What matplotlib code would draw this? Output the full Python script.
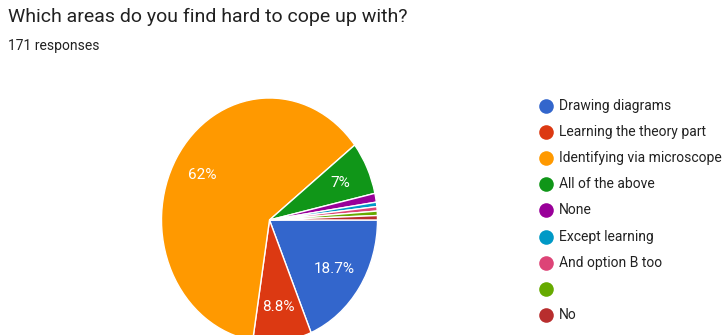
import matplotlib
matplotlib.use("Agg")
import matplotlib.pyplot as plt

title = "Which areas do you find hard to cope up with?"
subtitle = "171 responses"
categories = ["Drawing diagrams", "Learning the theory part", "Identifying via microscope",
              "All of the above", "None", "Except learning", "And option B too", "", "No"]
counts = [32, 15, 106, 12, 2, 1, 1, 1, 1]
colors = ["#3366cc", "#dc3912", "#ff9900", "#109618", "#990099",
          "#0099c6", "#dd4477", "#66aa00", "#b82e2e"]

plt.rcParams['font.family'] = ['Roboto', 'DejaVu Sans']

W, H = 727, 335
fig = plt.figure(figsize=(W / 100, H / 100), dpi=100)
fig.patch.set_facecolor("white")

# pie axes (slightly stretched vertically like the reference)
cx, cy, rx, ry = 269.5, 220, 108, 122
ax = fig.add_axes([(cx - rx) / W, (H - cy - ry) / H, 2 * rx / W, 2 * ry / H])

def fmt(p):
    if p < 5:
        return ""
    s = f"{p:.1f}"
    if s.endswith(".0"):
        s = s[:-2]
    return s + "%"

wedges, texts, autotexts = ax.pie(
    counts, colors=colors, startangle=0, counterclock=False,
    autopct=fmt, pctdistance=0.72,
    wedgeprops=dict(edgecolor="white", linewidth=1.0),
    textprops=dict(color="white", fontsize=11))
ax.set_aspect("auto")
ax.set_xlim(-1, 1)
ax.set_ylim(-1, 1)
ax.axis("off")

# overlay axes in pixel coordinates for text and legend
ov = fig.add_axes([0, 0, 1, 1])
ov.set_xlim(0, W)
ov.set_ylim(H, 0)
ov.axis("off")
ov.patch.set_alpha(0)

ov.text(8, 17, title, fontsize=14, color="#212121", va="center", ha="left")
ov.text(8, 46, subtitle, fontsize=10, color="#212121", va="center", ha="left")

y0, dy = 106, 26.1
for i, (lab, col) in enumerate(zip(categories, colors)):
    y = y0 + i * dy
    ov.plot([546], [y], marker="o", markersize=10.5, color=col, markeredgewidth=0)
    ov.text(559, y, lab, fontsize=10, color="#222222", va="center", ha="left")

fig.savefig("out.png", dpi=100)
